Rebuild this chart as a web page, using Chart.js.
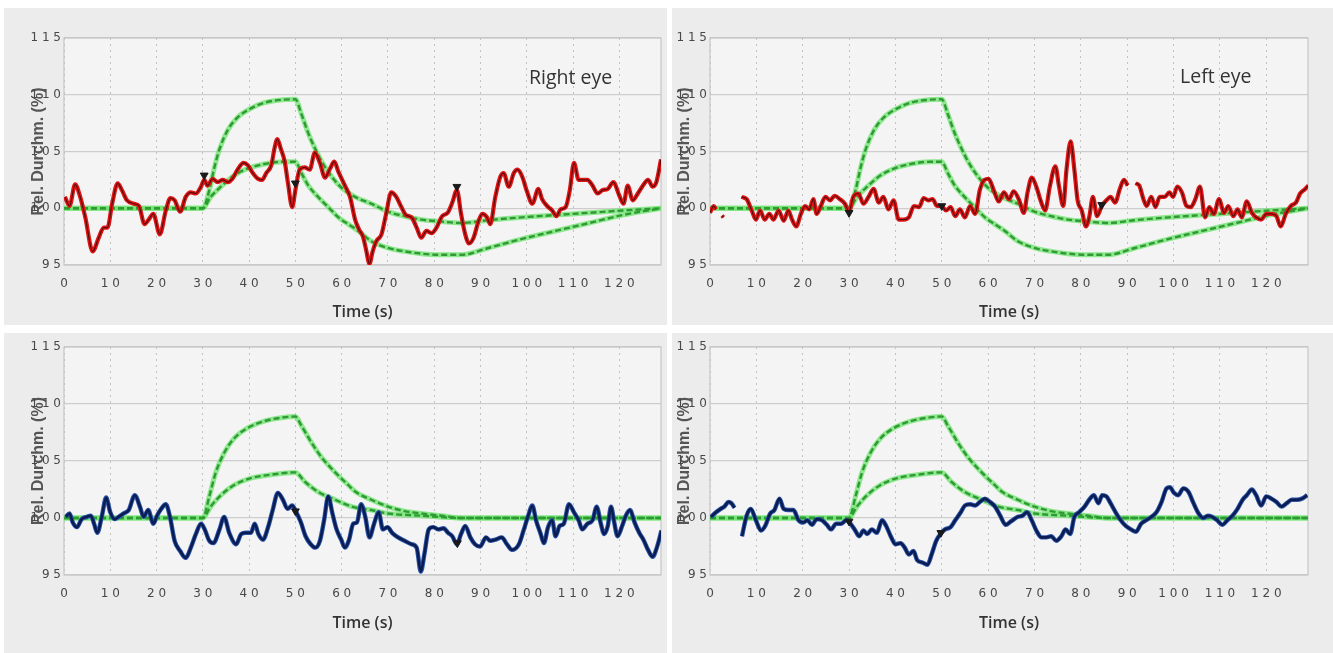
<!DOCTYPE html>
<html>
<head>
<meta charset="utf-8">
<script src="https://cdn.jsdelivr.net/npm/chart.js@4/dist/chart.umd.min.js"></script>
<style>
  body { margin: 0; background: #fff; width: 1333px; height: 653px; overflow: hidden; position: relative; }
  .panel { position: absolute; background: #ececec; }
  .panel canvas { position: absolute; left: 0; top: 0; }
  .eye { position: absolute; font-family: "Open Sans", sans-serif; font-size: 19.5px; color: #333; }
</style>
</head>
<body>
<div class="panel" style="left:4px;top:8px;width:663px;height:317px"><canvas id="c1" width="663" height="317"></canvas></div>
<div class="panel" style="left:672px;top:8px;width:661px;height:317px"><canvas id="c2" width="661" height="317"></canvas></div>
<div class="panel" style="left:4px;top:333px;width:663px;height:320px"><canvas id="c3" width="663" height="320"></canvas></div>
<div class="panel" style="left:672px;top:333px;width:661px;height:320px"><canvas id="c4" width="661" height="320"></canvas></div>
<div class="eye" style="left:529px;top:63px">Right eye</div>
<div class="eye" style="left:1180px;top:62px">Left eye</div>
<script>
// y axis ticks (Rel. Durchm. %) and x axis ticks (Time, s)
const yTicks = [95, 100, 105, 110, 115];
const xTicks = [0, 10, 20, 30, 40, 50, 60, 70, 80, 90, 100, 110, 120];

// model curves (green), top row: [time, value]
const greenTopHigh = [[0,100],[30,100],[31.4,101.6],[32.5,103.6],[33.6,105.2],[35.4,106.9],[37.5,108.0],[40.4,108.8],[43.3,109.3],[47,109.55],[50,109.6],[51.3,108.3],[52.8,106.6],[54.2,105.3],[55.7,104.1],[57.8,102.8],[60,101.8],[62.9,101.0],[66.4,100.4],[70,99.7],[73.6,99.3],[77.2,99.0],[80.9,98.85],[85.9,98.7],[91.7,98.95],[99,99.2],[106.2,99.4],[113.5,99.6],[120.7,99.8],[129,100]];
const greenTopMid = [[0,100],[30,100],[31.7,101.0],[33.9,101.9],[36.8,102.9],[39.7,103.5],[43.3,103.9],[47.7,104.1],[50,104.1],[51.3,103.1],[52.8,102.0],[54.9,101.0],[57.1,100.1],[59.3,99.2],[61.4,98.6],[63.6,98.0],[66.4,97.1],[70,96.5],[73.6,96.2],[77.2,96.0],[80.9,95.9],[85.9,95.9],[91.7,96.5],[99,97.3],[106.2,98.0],[113.5,98.7],[120.7,99.4],[129,100]];
// model curves (green), bottom row
const greenBotHigh = [[0,100],[30,100],[31.4,101.9],[32.8,104.0],[34.6,105.7],[36.8,107.0],[39.7,107.9],[43.3,108.5],[47,108.8],[50,108.9],[51.3,108.1],[53.5,106.6],[55.7,105.3],[58.6,104.0],[61.4,102.9],[63,102.3],[66.4,101.6],[70,101.0],[73.6,100.6],[77.2,100.4],[81.6,100.2],[85.9,100],[129,100]];
const greenBotMid = [[0,100],[30,100],[31.7,101.0],[33.9,102.0],[36.8,102.9],[40.4,103.5],[44.8,103.8],[50,104.0],[52,103.2],[54.9,102.3],[58.6,101.6],[62.2,101.0],[66.4,100.7],[70,100.4],[77.2,100.2],[86,100],[129,100]];

// measured vessel diameter, right eye (top left)
const rightEyeTop = [[0.2,101.0],[1.2,100.2],[2.4,102.1],[3.5,101.0],[4.6,99.2],[6.2,96.2],[7.5,97.4],[8.6,98.3],[9.4,98.3],[10.4,100.4],[11.6,102.2],[12.5,101.6],[13.6,100.7],[15.1,100.4],[16.2,100.2],[17.4,98.6],[18.3,99.0],[19.3,99.5],[20.7,97.7],[22.0,99.8],[23.0,100.9],[23.9,100.7],[25.1,99.7],[26.3,101.0],[27.4,101.4],[28.5,101.3],[29.6,101.9],[30.3,102.5],[31.0,102.0],[32.1,102.6],[33.2,102.3],[34.3,102.5],[35.4,102.3],[36.4,102.6],[37.5,103.4],[38.8,104.0],[39.7,103.8],[40.8,103.1],[41.9,102.6],[42.8,102.5],[43.7,103.1],[44.8,103.8],[45.5,105.3],[46.1,106.1],[46.8,105.3],[47.7,104.1],[48.4,102.2],[49.3,100.1],[50.0,101.6],[50.9,103.4],[52.0,103.6],[53.1,103.4],[54.2,104.9],[55.3,104.0],[56.4,102.7],[57.5,103.5],[58.4,104.1],[59.3,103.2],[60.7,102.0],[61.8,101.0],[62.9,99.0],[63.8,98.1],[64.6,97.5],[65.3,96.3],[66.0,95.1],[66.7,96.2],[67.5,97.1],[68.6,97.7],[69.6,99.5],[70.7,101.4],[71.8,101.0],[72.9,100.1],[73.9,99.4],[75.1,99.2],[76.2,98.3],[77.2,97.4],[78.3,98.0],[79.4,97.8],[80.5,98.3],[81.7,99.3],[82.9,99.6],[83.9,100.5],[84.9,101.6],[85.8,99.5],[86.7,97.7],[87.5,96.9],[88.5,97.4],[89.6,98.9],[90.4,99.5],[91.4,99.2],[92.1,98.6],[93.2,101.0],[94.3,102.8],[95.0,103.1],[96.1,101.9],[97.2,103.1],[98.0,103.4],[99.0,102.8],[100.1,101.4],[101.2,100.4],[102.5,101.7],[103.3,100.8],[104.4,100.2],[105.5,99.8],[106.4,99.3],[107.3,99.9],[108.4,100.1],[109.3,101.6],[110.2,104.0],[111.2,102.5],[112.0,102.5],[113.1,102.5],[114.2,102.0],[115.3,101.3],[116.4,101.6],[117.5,101.7],[118.7,102.3],[120.0,101.1],[120.9,100.4],[121.8,102.0],[122.9,100.7],[124.0,101.3],[125.1,102.0],[126.2,102.5],[127.2,101.9],[128.0,102.3],[129.0,104.3]];
// left eye (top right), null marks a gap in the recording
const leftEyeTop = [[0,99.6],[0.8,100.2],[1.3,99.9],[2,null],[2.6,99.35],[2.9,99.2],[4,null],[6.8,101.0],[7.9,100.8],[9.0,99.8],[9.9,99.0],[10.8,99.8],[11.8,99.0],[12.8,99.5],[13.7,99.0],[14.8,99.8],[15.9,98.9],[16.9,99.8],[17.7,99.0],[18.6,98.4],[19.6,99.5],[20.5,100.2],[21.4,99.9],[22.3,100.8],[23.0,99.5],[23.9,100.2],[24.9,101.0],[25.9,100.7],[26.9,101.1],[28.0,100.8],[29.1,100.4],[30.0,99.7],[30.9,101.0],[32.0,101.3],[33.1,100.4],[34.2,101.0],[35.3,101.7],[36.4,100.5],[37.4,101.0],[38.5,99.9],[39.6,100.7],[40.7,99.0],[41.8,99.0],[42.9,99.2],[44.0,100.2],[45.1,100.1],[46.1,100.9],[47.1,100.7],[48.0,100.8],[49.0,100.2],[50.0,100.2],[50.9,99.8],[51.9,100.1],[52.9,99.3],[53.9,99.9],[55.0,99.2],[56.1,100.2],[57.2,99.5],[58.2,101.6],[59.2,102.5],[60.1,102.6],[61.2,101.6],[62.3,100.6],[63.4,101.4],[64.5,100.8],[65.5,101.5],[66.7,100.7],[67.7,99.6],[68.5,101.4],[69.4,102.7],[70.4,101.9],[71.3,100.7],[72.3,99.8],[73.3,101.9],[74.5,103.7],[75.3,101.9],[76.2,100.2],[76.9,103.4],[77.8,105.9],[78.6,103.4],[79.3,100.7],[80.2,99.8],[81.1,98.4],[81.8,99.2],[82.6,101.0],[83.5,99.3],[84.5,100.2],[85.5,100.7],[86.4,101.0],[87.4,100.5],[88.4,101.7],[89.3,102.5],[90.1,102.0],[91,null],[91.8,102.2],[92.6,102.0],[93.5,100.8],[94.2,100.2],[95.2,101.0],[96.1,100.1],[97.0,101.0],[98.1,101.0],[99.1,101.4],[99.9,101.0],[100.8,101.9],[101.8,101.4],[102.8,100.2],[103.7,100.1],[104.7,100.8],[105.7,101.9],[106.8,99.2],[107.7,100.1],[108.7,99.5],[109.8,100.8],[110.9,99.6],[111.8,100.2],[112.9,99.3],[113.8,99.9],[114.7,99.2],[115.8,100.6],[116.9,99.6],[117.8,99.2],[118.9,99.0],[120.0,99.5],[121.1,99.5],[122.2,99.3],[123.1,98.4],[124.2,99.5],[125.3,100.2],[126.4,100.5],[127.3,101.3],[128.4,101.7],[129.1,102.0]];
// bottom row, second measurement
const rightEyeBot = [[0.4,100.1],[1.2,100.4],[1.9,99.6],[2.8,99.2],[3.8,99.9],[4.9,100.1],[5.8,100.2],[6.5,99.5],[7.2,98.7],[8.2,100.2],[9.1,101.8],[10.0,100.5],[10.9,99.9],[11.8,100.1],[12.9,100.4],[14.0,100.7],[15.3,102.0],[16.4,101.0],[17.2,100.1],[18.2,100.7],[19.3,99.5],[20.1,100.2],[21.0,100.8],[22.0,101.2],[22.9,100.1],[23.9,98.0],[25.1,97.1],[26.3,96.5],[27.4,97.4],[28.5,98.6],[29.6,99.5],[30.4,99.0],[31.4,98.0],[32.3,97.8],[33.6,99.0],[34.6,100.1],[35.7,98.7],[37.2,97.7],[38.3,98.6],[39.3,98.7],[40.4,98.7],[41.2,99.5],[42.0,98.6],[43.0,98.1],[44.1,99.2],[45.1,100.7],[46.2,102.2],[47.3,101.6],[48.3,100.8],[49.3,101.1],[50.2,100.5],[51.2,99.6],[52.2,98.4],[53.3,97.7],[54.3,97.4],[55.3,98.0],[56.2,99.8],[57.1,101.9],[58.0,100.4],[58.9,99.0],[59.9,98.1],[60.7,97.4],[61.6,98.1],[62.5,99.5],[63.3,99.6],[64.2,101.2],[65.1,100.1],[66.0,98.3],[67.0,99.5],[68.0,100.5],[68.9,99.0],[69.9,99.2],[70.9,98.7],[72.2,98.3],[73.6,98.0],[75.1,97.7],[76.2,97.4],[77.1,95.3],[77.9,96.9],[78.8,99.0],[79.8,99.2],[80.9,99.0],[82.0,99.1],[83.0,98.7],[83.9,98.4],[84.9,97.7],[85.8,98.6],[86.7,99.3],[87.8,98.3],[88.8,97.7],[89.9,97.5],[91.2,98.3],[92.1,98.0],[93.2,98.1],[94.6,98.3],[95.7,97.7],[96.8,97.2],[98.3,97.7],[99.3,98.9],[100.3,100.2],[101.2,101.1],[102.0,99.8],[103.0,98.6],[103.7,97.8],[104.6,99.2],[105.5,99.8],[106.2,98.4],[107.1,99.3],[108.0,99.5],[109.1,101.2],[110.2,100.5],[111.2,99.8],[112.0,99.0],[113.1,99.5],[114.2,99.8],[115.1,101.0],[116.0,99.5],[116.7,98.6],[117.5,99.3],[118.2,101.0],[118.9,99.6],[119.6,98.4],[120.6,99.3],[121.4,100.2],[122.3,100.7],[123.3,99.6],[124.3,98.7],[125.2,98.1],[126.2,97.2],[127.2,96.6],[128.1,97.4],[129.1,98.9]];
const leftEyeBot = [[0.2,100.1],[1.3,100.5],[2.3,100.8],[3.1,101.0],[4.0,101.4],[4.6,101.3],[5.3,100.9],[6,null],[6.9,98.4],[7.9,100.2],[8.8,100.8],[9.9,99.8],[11.0,98.9],[11.9,99.3],[13.0,100.4],[13.9,100.7],[15.0,101.7],[15.9,100.8],[17.0,100.7],[18.0,100.7],[19.1,99.8],[20.1,99.6],[21.0,99.8],[22.0,99.4],[23.0,99.9],[24.2,99.8],[25.2,99.4],[26.1,99.0],[27.2,99.5],[28.3,99.5],[29.4,99.8],[30.3,99.5],[31.2,99.0],[32.2,98.4],[33.1,98.9],[33.9,98.6],[34.9,99.0],[36.0,98.7],[37.1,99.8],[38.0,99.3],[39.1,98.3],[40.0,97.7],[41.1,97.8],[42.0,97.4],[42.9,96.8],[43.9,97.1],[44.7,96.3],[45.8,96.1],[46.9,95.9],[47.8,96.8],[48.8,98.0],[49.7,98.6],[50.7,99.0],[51.9,99.2],[52.9,99.8],[54.1,100.5],[55.0,101.1],[56.1,101.2],[57.2,101.1],[58.2,101.4],[59.3,101.7],[60.4,101.4],[61.5,101.0],[62.6,100.2],[63.8,99.4],[64.9,99.7],[66.4,100.1],[67.4,100.2],[68.4,100.5],[69.4,99.8],[70.4,98.9],[71.5,98.3],[72.6,98.3],[73.6,98.4],[74.7,98.0],[75.8,98.4],[76.7,99.0],[77.7,98.6],[78.6,100.1],[79.6,100.5],[80.8,101.0],[81.8,101.6],[82.8,102.0],[83.8,101.3],[84.6,102.0],[85.5,101.9],[86.4,101.3],[87.5,100.5],[88.6,99.8],[89.7,99.3],[90.8,99.0],[91.9,98.8],[93.0,99.5],[94.1,99.8],[95.2,100.1],[96.3,100.5],[97.4,101.4],[98.5,102.6],[99.2,102.7],[100.1,102.2],[101.0,102.0],[102.1,102.6],[103.2,102.3],[104.3,101.3],[105.4,100.4],[106.4,100.0],[107.4,100.2],[108.3,100.1],[109.4,99.8],[110.5,99.4],[111.6,99.8],[112.7,100.2],[113.8,100.8],[114.9,101.6],[115.8,102.0],[116.9,102.5],[117.8,102.0],[118.9,101.1],[120.0,101.9],[121.1,101.7],[122.2,101.4],[123.3,101.0],[124.4,101.3],[125.5,101.6],[126.6,101.6],[127.7,101.7],[128.8,102.0]];

// black event markers (triangles)
const marksRightTop = [[30.3,102.9],[50,102.2],[84.9,101.9]];
const marksLeftTop = [[30,99.6],[50,100.2],[84.5,100.3]];
const marksRightBot = [[50,100.6],[85,97.8]];
const marksLeftBot = [[30,99.7],[49.8,98.7]];

const pts = arr => arr.map(p => ({x: p[0], y: p[1]}));
const spaced = v => String(v).split('').join(' ');

// plot background and light grey frame round the plot area
const plotFrame = {
  id: 'plotFrame',
  beforeDraw(chart) {
    const {ctx, chartArea: a} = chart;
    ctx.save();
    ctx.fillStyle = '#f4f4f4';
    ctx.fillRect(a.left, a.top, a.width, a.height);
    ctx.restore();
  },
  beforeDatasetsDraw(chart) {
    const {ctx, chartArea: a} = chart;
    ctx.save();
    ctx.strokeStyle = '#c6c6c6';
    ctx.lineWidth = 1.2;
    ctx.strokeRect(a.left, a.top, a.width, a.height);
    ctx.restore();
  }
};

function greenSets(curve) {
  return [
    { data: pts(curve), borderColor: 'rgba(110,228,110,0.75)', borderWidth: 5, order: 6 },
    { data: pts(curve), borderColor: '#2f9a33', borderWidth: 2.4, borderDash: [6, 3], order: 5 }
  ];
}

function makeChart(id, box, measured, lineColors, marks, greens) {
  const W = box.w, H = box.h;
  const datasets = [];
  greens.forEach(g => datasets.push(...greenSets(g)));
  datasets.push({ data: pts(measured), borderColor: lineColors[0], borderWidth: lineColors[2], tension: 0.3, order: 3, spanGaps: false });
  datasets.push({ data: pts(measured), borderColor: lineColors[1], borderWidth: lineColors[3], tension: 0.3, order: 2, spanGaps: false });
  datasets.push({ data: pts(marks), showLine: false, pointStyle: 'triangle', rotation: 180, pointRadius: 4.5,
                  pointBackgroundColor: '#1a1a1a', pointBorderColor: '#1a1a1a', order: 1 });

  new Chart(document.getElementById(id), {
    type: 'line',
    data: { datasets: datasets },
    options: {
      responsive: false,
      animation: false,
      events: [],
      layout: { padding: { left: 0, top: box.top, right: W - box.right, bottom: 0 } },
      elements: { point: { radius: 0 }, line: { cubicInterpolationMode: 'monotone' } },
      plugins: { legend: { display: false }, tooltip: { enabled: false } },
      scales: {
        x: {
          type: 'linear', min: 0, max: 129,
          afterBuildTicks: s => { s.ticks = xTicks.map(v => ({value: v})); },
          afterFit: s => { s.height = H - box.bottom; },
          ticks: { callback: v => spaced(v), maxRotation: 0, autoSkip: false, padding: box.xtp,
                   color: '#484848', font: { family: 'DejaVu Sans', size: 12 } },
          grid: { color: '#c2c2c2', lineWidth: 1, drawTicks: false },
          border: { display: false, dash: [2, 4] },
          title: { display: true, text: 'Time (s)', color: '#333', padding: { top: 0, bottom: box.xtb },
                   font: { family: 'Open Sans', size: 16, weight: '600' } }
        },
        y: {
          min: 95, max: 115,
          afterBuildTicks: s => { s.ticks = yTicks.map(v => ({value: v})); },
          afterFit: s => { s.width = box.left; },
          ticks: { callback: v => spaced(v), padding: 3, color: '#484848', font: { family: 'DejaVu Sans', size: 12 } },
          grid: { color: '#cdcdcd', lineWidth: 1.2, drawTicks: false },
          border: { display: false },
          title: { display: true, text: 'Rel. Durchm. (%)', color: '#555', padding: { top: box.ytp, bottom: 0 },
                   font: { family: 'Liberation Sans', size: 16, weight: 'bold' } }
        }
      }
    },
    plugins: [plotFrame]
  });
}

const red = ['#e01616', '#5a0808', 4.2, 1.2];
const blue = ['#2a55a8', '#0b1c52', 4.4, 2.6];

makeChart('c1', {w: 663, h: 317, left: 60, top: 30, right: 657, bottom: 257, ytp: 25, xtb: 3.4, xtp: 12},
          rightEyeTop, red, marksRightTop, [greenTopHigh, greenTopMid]);
makeChart('c2', {w: 661, h: 317, left: 38, top: 30, right: 636, bottom: 257, ytp: 2.5, xtb: 3.4, xtp: 12},
          leftEyeTop, red, marksLeftTop, [greenTopHigh, greenTopMid]);
makeChart('c3', {w: 663, h: 320, left: 60, top: 14, right: 657, bottom: 242, ytp: 25, xtb: 20.4, xtp: 12},
          rightEyeBot, blue, marksRightBot, [greenBotHigh, greenBotMid]);
makeChart('c4', {w: 661, h: 320, left: 38, top: 14, right: 636, bottom: 242, ytp: 2.5, xtb: 20.4, xtp: 12},
          leftEyeBot, blue, marksLeftBot, [greenBotHigh, greenBotMid]);
</script>
</body>
</html>
